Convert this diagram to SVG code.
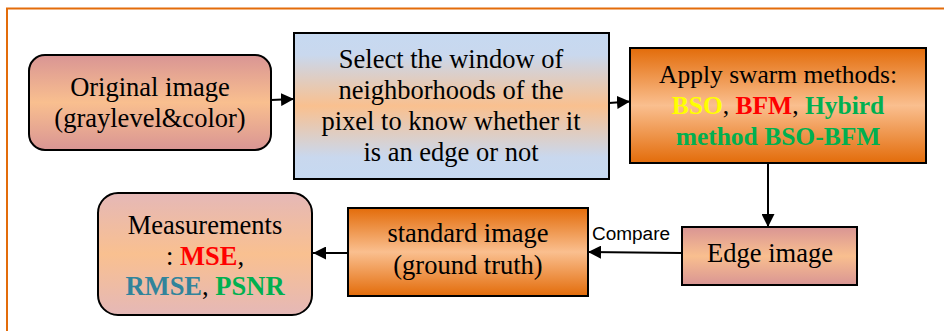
<svg xmlns="http://www.w3.org/2000/svg" width="944" height="331" viewBox="0 0 944 331">
<defs>
<linearGradient id="gPink" x1="0" y1="0" x2="0" y2="1">
<stop offset="0" stop-color="#d99594"/><stop offset="0.5" stop-color="#f9bf8f"/><stop offset="1" stop-color="#d99594"/>
</linearGradient>
<linearGradient id="gBlue" x1="0" y1="0" x2="0" y2="1">
<stop offset="0" stop-color="#c6d9f1"/><stop offset="0.15" stop-color="#c9d8ee"/><stop offset="0.5" stop-color="#f9c08f"/><stop offset="0.85" stop-color="#c9d8ee"/><stop offset="1" stop-color="#c6d9f1"/>
</linearGradient>
<linearGradient id="gOrange" x1="0" y1="0" x2="0" y2="1">
<stop offset="0" stop-color="#e36c0a"/><stop offset="0.5" stop-color="#fabf8f"/><stop offset="1" stop-color="#e36c0a"/>
</linearGradient>
<linearGradient id="gRose" x1="0" y1="0" x2="0" y2="1">
<stop offset="0" stop-color="#e5b8b7"/><stop offset="0.5" stop-color="#f9c090"/><stop offset="1" stop-color="#e5b8b7"/>
</linearGradient>
<marker id="ah" viewBox="0 0 13 13" refX="13" refY="6.5" markerWidth="13" markerHeight="13" markerUnits="userSpaceOnUse" orient="auto">
<path d="M0,0 L13,6.5 L0,13 Z" fill="#000"/>
</marker>
</defs>
<style>
.box{stroke:#000;stroke-width:2}
.t{font-family:"Liberation Serif","Times New Roman",serif;font-size:26.5px;text-anchor:middle}
.b{font-weight:bold}
.conn{stroke:#000;stroke-width:2;fill:none;marker-end:url(#ah)}
.lbl{font-family:"Liberation Sans",Arial,sans-serif;font-size:18px;fill:#000}
</style>
<rect x="0" y="0" width="944" height="331" fill="#fff"/>
<rect x="7" y="8.5" width="960" height="340" fill="none" stroke="#e36c0a" stroke-width="2"/>

<g id="connectors">
<line class="conn" x1="271" y1="100" x2="294" y2="99"/>
<line class="conn" x1="609" y1="103" x2="630" y2="101.5"/>
<line class="conn" x1="768" y1="163" x2="768" y2="227"/>
<line class="conn" x1="682" y1="253" x2="588" y2="252"/>
<line class="conn" x1="348" y1="253" x2="313" y2="253"/>
<text class="lbl" x="592" y="240" textLength="78" lengthAdjust="spacingAndGlyphs">Compare</text>
</g>

<g id="original">
<rect class="box" x="29" y="55" width="242" height="95" rx="16" fill="url(#gPink)"/>
<text class="t" x="150" y="96">Original image</text>
<text class="t" x="150" y="127">(graylevel&amp;color)</text>
</g>

<g id="select">
<rect class="box" x="294" y="33" width="315" height="146" fill="url(#gBlue)" stroke-width="1.5" stroke="#222"/>
<text class="t" x="451" y="68">Select the window of</text>
<text class="t" x="451" y="99">neighborhoods of the</text>
<text class="t" x="451" y="130">pixel to know whether it</text>
<text class="t" x="451" y="161">is an edge or not</text>
</g>

<g id="swarm">
<rect class="box" x="630" y="48" width="296" height="115" fill="url(#gOrange)"/>
<text class="t" x="778" y="83" style="font-size:25.5px">Apply swarm methods:</text>
<text class="t" x="778" y="114" style="font-size:25.5px"><tspan class="b" fill="#ffff00">BSO</tspan>, <tspan class="b" fill="#ff0000">BFM</tspan>, <tspan class="b" fill="#00b050">Hybird</tspan></text>
<text class="t" x="778" y="145" style="font-size:25.5px"><tspan class="b" fill="#00b050">method BSO-BFM</tspan></text>
</g>

<g id="edge">
<rect class="box" x="682" y="227" width="175" height="58" fill="url(#gPink)"/>
<text class="t" x="770" y="262">Edge image</text>
</g>

<g id="standard">
<rect class="box" x="348" y="208" width="240" height="88" fill="url(#gOrange)" stroke="#333"/>
<text class="t" x="468" y="242">standard image</text>
<text class="t" x="468" y="274">(ground truth)</text>
</g>

<g id="measurements">
<rect class="box" x="98" y="193" width="214" height="122" rx="20" fill="url(#gRose)"/>
<text class="t" x="205" y="234">Measurements</text>
<text class="t" x="205" y="265">: <tspan class="b" fill="#ff0000">MSE</tspan>,</text>
<text class="t" x="205" y="295"><tspan class="b" fill="#31849b">RMSE</tspan>, <tspan class="b" fill="#00b050">PSNR</tspan></text>
</g>
</svg>
